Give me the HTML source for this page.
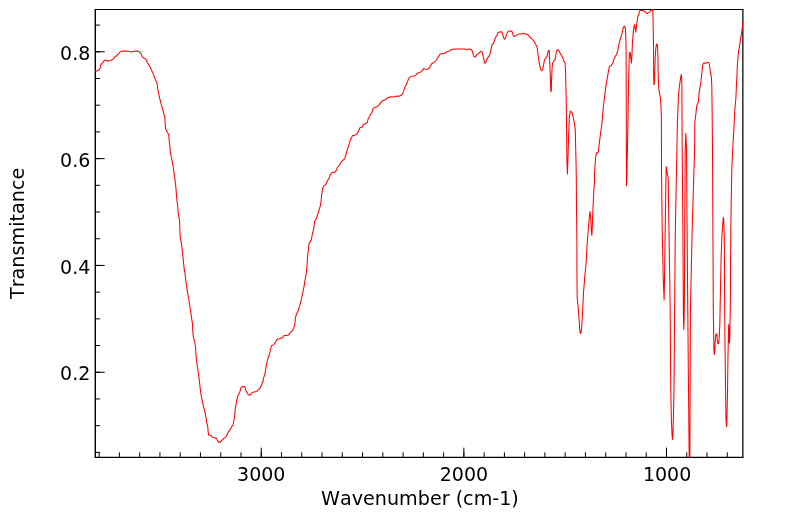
<!DOCTYPE html>
<html lang="en">
<head>
<meta charset="utf-8">
<title>IR Spectrum</title>
<style>
html,body{margin:0;padding:0;background:#fff;}
body{width:799px;height:516px;overflow:hidden;}
svg{display:block;will-change:transform;transform:translateZ(0);}
text{font-family:"DejaVu Sans","Liberation Sans",sans-serif;fill:#000;font-kerning:none;font-variant-ligatures:none;}
</style>
</head>
<body>
<svg width="799" height="516" viewBox="0 0 799 516">
<rect x="0" y="0" width="799" height="516" fill="#ffffff"/>
<defs><clipPath id="plotclip"><rect x="94.80" y="8.90" width="648.60" height="448.80"/></clipPath></defs>
<path d="M727.29,457.00 v-4.70 M707.03,457.00 v-4.70 M686.76,457.00 v-4.70 M666.50,457.00 v-4.70 M666.50,457.00 v-9.30 M646.24,457.00 v-4.70 M625.97,457.00 v-4.70 M605.71,457.00 v-4.70 M585.45,457.00 v-4.70 M565.18,457.00 v-4.70 M544.92,457.00 v-4.70 M524.66,457.00 v-4.70 M504.40,457.00 v-4.70 M484.13,457.00 v-4.70 M463.87,457.00 v-4.70 M463.87,457.00 v-9.30 M443.61,457.00 v-4.70 M423.34,457.00 v-4.70 M403.08,457.00 v-4.70 M382.82,457.00 v-4.70 M362.56,457.00 v-4.70 M342.29,457.00 v-4.70 M322.03,457.00 v-4.70 M301.77,457.00 v-4.70 M281.50,457.00 v-4.70 M261.24,457.00 v-4.70 M261.24,457.00 v-9.30 M240.98,457.00 v-4.70 M220.71,457.00 v-4.70 M200.45,457.00 v-4.70 M180.19,457.00 v-4.70 M159.93,457.00 v-4.70 M139.66,457.00 v-4.70 M119.40,457.00 v-4.70 M99.14,457.00 v-4.70 M95.40,452.39 h4.70 M95.40,425.68 h4.70 M95.40,398.98 h4.70 M95.40,372.27 h4.70 M95.40,372.27 h9.30 M95.40,345.56 h4.70 M95.40,318.86 h4.70 M95.40,292.15 h4.70 M95.40,265.44 h4.70 M95.40,265.44 h9.30 M95.40,238.74 h4.70 M95.40,212.03 h4.70 M95.40,185.32 h4.70 M95.40,158.62 h4.70 M95.40,158.62 h9.30 M95.40,131.91 h4.70 M95.40,105.20 h4.70 M95.40,78.50 h4.70 M95.40,51.79 h4.70 M95.40,51.79 h9.30 M95.40,25.09 h4.70" fill="none" stroke="#000" stroke-width="1"/>
<g stroke="#000" fill="none">
<line x1="95.3" y1="9.2" x2="95.3" y2="457.85" stroke-width="1.4"/>
<line x1="94.85" y1="9.45" x2="743.35" y2="9.45" stroke-width="1.1"/>
<line x1="742.85" y1="9.2" x2="742.85" y2="457.85" stroke-width="1.25"/>
<line x1="94.85" y1="457.35" x2="743.35" y2="457.35" stroke-width="1.2"/>
</g>
<g clip-path="url(#plotclip)"><path d="M95.3,71.0 L96.9,71.0 L98.4,70.2 L99.8,68.9 L100.3,67.3 L100.5,65.2 L101.3,64.1 L102.7,62.6 L104.2,60.6 L105.3,60.0 L106.5,60.4 L107.7,61.2 L108.8,60.6 L110.9,60.2 L113.2,59.2 L114.1,58.0 L114.9,56.6 L116.4,55.9 L117.3,54.8 L118.7,53.6 L119.9,52.1 L121.3,51.4 L123.1,51.1 L128.6,51.2 L129.7,51.6 L131.2,52.1 L132.9,51.5 L134.0,51.2 L135.6,51.1 L138.2,51.1 L139.3,51.9 L140.5,53.3 L141.5,54.8 L142.1,56.5 L143.1,57.7 L144.9,58.4 L146.3,60.0 L147.2,62.3 L148.9,64.9 L150.4,67.8 L151.8,70.7 L153.0,73.4 L155.5,79.8 L157.1,83.5 L157.8,89.2 L157.9,90.0 L159.5,97.6 L161.4,105.2 L163.3,111.5 L164.8,117.8 L165.2,124.0 L165.6,129.1 L167.1,131.6 L168.7,134.8 L169.3,141.7 L170.2,149.2 L170.2,151.3 L171.7,158.8 L173.3,167.7 L174.6,176.5 L175.8,186.6 L176.7,197.9 L178.0,209.2 L178.0,212.6 L179.5,220.1 L179.9,230.2 L180.2,237.8 L181.4,242.8 L182.4,251.6 L183.3,260.4 L184.2,269.2 L184.9,272.6 L186.1,282.6 L187.6,292.7 L189.5,304.0 L191.2,315.4 L192.7,325.4 L192.6,327.6 L193.2,336.4 L194.9,342.7 L195.7,349.0 L196.1,356.5 L197.0,364.1 L198.3,372.9 L199.5,381.7 L200.1,387.6 L201.3,396.4 L203.2,405.2 L205.1,412.8 L206.1,418.0 L206.7,422.6 L207.8,426.7 L208.1,431.4 L208.6,434.9 L210.8,435.3 L211.9,436.9 L213.9,437.5 L216.6,438.4 L217.4,440.4 L218.6,442.1 L220.3,442.1 L223.2,438.9 L226.2,436.6 L227.3,434.0 L228.5,431.7 L230.2,429.6 L231.7,426.7 L233.1,424.7 L233.7,421.5 L234.4,418.0 L235.3,409.0 L236.8,400.1 L237.9,395.7 L239.8,392.0 L241.0,387.6 L242.3,386.6 L244.2,386.6 L245.2,388.2 L246.1,391.1 L247.7,393.9 L249.4,395.4 L250.7,394.5 L252.3,392.2 L254.2,392.0 L256.1,391.6 L258.0,390.1 L260.1,387.8 L261.8,384.4 L263.3,380.0 L263.2,379.2 L264.9,374.2 L266.1,366.6 L267.6,359.7 L269.5,354.0 L271.4,345.8 L273.9,344.6 L275.8,341.4 L277.7,338.9 L280.2,338.6 L282.8,337.4 L284.3,335.4 L286.5,335.4 L288.4,335.1 L290.3,332.6 L292.8,329.8 L294.1,326.9 L295.1,322.5 L295.2,319.2 L296.2,314.8 L298.3,310.4 L300.2,304.1 L301.7,297.8 L303.0,291.5 L304.3,285.2 L305.0,280.1 L306.3,273.9 L306.8,267.6 L307.4,260.6 L307.4,257.9 L308.3,250.4 L309.1,243.4 L311.2,240.1 L312.4,234.0 L313.9,227.7 L314.6,221.4 L316.4,218.3 L318.3,212.6 L320.2,206.3 L321.1,201.0 L321.6,195.4 L322.6,188.5 L323.9,185.6 L325.7,184.7 L327.0,181.6 L328.9,178.4 L330.8,173.8 L332.7,172.1 L334.6,172.5 L335.8,171.2 L337.5,167.1 L339.2,165.8 L340.9,162.4 L343.0,160.2 L344.6,158.9 L345.9,154.5 L347.8,148.2 L349.4,143.2 L350.7,139.2 L352.6,135.4 L354.5,135.4 L357.0,133.9 L358.6,131.0 L359.9,127.8 L362.0,127.2 L363.3,124.7 L365.2,123.8 L367.1,122.8 L368.3,118.4 L370.2,115.2 L372.1,112.1 L373.0,108.7 L374.6,107.4 L377.1,106.7 L379.0,104.9 L380.9,102.4 L382.8,100.4 L385.1,100.1 L386.9,98.2 L389.1,97.2 L391.0,96.7 L393.5,97.0 L396.7,96.1 L399.2,96.3 L401.1,95.3 L402.6,93.6 L404.2,89.4 L405.5,86.0 L406.3,84.2 L409.1,77.9 L411.3,76.3 L413.9,76.0 L415.7,75.1 L417.6,73.1 L420.1,72.4 L422.0,70.9 L423.9,68.4 L425.8,69.4 L427.7,69.3 L429.6,67.5 L431.7,63.8 L434.0,62.5 L436.5,60.0 L438.4,56.7 L440.3,53.9 L442.2,53.5 L444.1,53.7 L446.4,52.0 L448.5,51.4 L451.0,49.8 L454.2,48.9 L459.2,48.9 L464.2,48.9 L466.8,49.6 L469.3,49.1 L471.2,49.5 L472.4,51.4 L473.7,56.2 L475.2,57.1 L476.8,54.6 L478.7,53.3 L480.6,51.4 L482.1,52.0 L483.4,57.1 L484.6,63.1 L485.6,63.0 L486.6,59.6 L488.2,57.1 L489.7,55.2 L490.7,50.8 L491.9,45.1 L493.8,42.6 L495.1,38.2 L497.0,35.0 L498.2,32.5 L499.4,32.0 L501.6,31.8 L502.6,33.9 L503.6,37.7 L504.5,39.2 L505.4,38.3 L506.4,35.1 L507.4,32.4 L508.9,31.1 L510.8,31.0 L512.4,32.0 L513.3,35.8 L514.6,36.4 L516.5,35.1 L518.3,34.1 L520.9,33.9 L523.4,33.6 L525.9,34.1 L528.2,35.1 L529.7,37.0 L531.6,38.5 L533.5,40.6 L535.3,43.7 L536.9,46.5 L537.6,50.9 L538.5,57.8 L539.5,64.1 L540.6,69.2 L541.6,70.7 L542.6,69.8 L543.5,65.4 L544.4,60.3 L545.4,58.1 L546.7,57.2 L547.6,54.0 L548.2,50.9 L549.2,50.3 L549.5,57.4 L550.0,69.1 L550.5,80.7 L550.8,91.2 L551.3,91.2 L551.6,78.4 L552.1,67.9 L552.7,62.7 L553.8,60.9 L555.0,60.0 L555.8,55.1 L556.7,50.5 L557.9,49.5 L559.1,51.0 L560.8,54.5 L562.6,57.4 L563.7,60.9 L565.1,62.7 L565.6,72.6 L565.8,84.2 L566.2,98.1 L566.6,128.0 L566.9,160.9 L567.4,174.1 L567.9,160.9 L568.6,136.2 L569.4,116.4 L570.4,111.1 L571.9,112.3 L573.2,117.2 L574.5,123.8 L575.3,130.4 L575.6,144.4 L576.0,160.9 L576.3,178.2 L576.5,207.9 L576.9,240.9 L576.9,264.9 L577.0,279.7 L577.2,297.8 L578.2,307.7 L579.2,320.9 L579.6,328.5 L580.0,331.6 L580.2,333.0 L580.5,333.5 L580.9,333.0 L581.1,331.6 L581.8,325.8 L582.5,312.7 L583.5,292.9 L584.8,276.4 L586.1,263.2 L586.8,249.1 L587.4,240.9 L588.4,227.7 L589.4,216.2 L590.0,211.6 L590.7,217.8 L591.4,231.0 L591.9,235.6 L592.4,224.4 L593.0,207.9 L593.8,191.5 L594.6,179.9 L594.3,176.6 L594.9,167.5 L595.8,156.0 L596.6,153.0 L598.2,152.2 L599.2,144.4 L600.4,134.5 L602.0,123.0 L602.6,115.2 L603.4,106.5 L604.9,93.7 L606.0,85.6 L607.6,76.3 L608.7,69.9 L609.5,66.4 L611.3,65.2 L612.7,63.5 L613.6,60.0 L615.0,56.7 L616.2,55.2 L617.7,50.9 L618.8,45.1 L620.0,39.9 L621.7,34.6 L622.9,29.4 L623.7,26.7 L624.6,26.3 L625.4,28.3 L625.8,37.6 L626.1,50.0 L626.2,80.0 L626.3,120.0 L626.5,185.7 L626.9,175.0 L627.4,150.0 L628.0,119.0 L628.3,100.0 L628.5,85.0 L628.8,71.6 L629.2,60.0 L629.5,52.6 L630.1,52.3 L630.7,57.3 L631.4,63.3 L632.0,53.8 L632.4,43.4 L633.1,34.1 L633.7,28.3 L634.5,24.5 L635.2,28.3 L635.8,32.3 L636.4,27.1 L637.1,21.3 L637.8,16.6 L639.0,14.3 L639.3,11.1 L640.3,10.4 L641.6,10.6 L644.1,11.0 L645.1,11.8 L646.1,13.0 L647.1,13.5 L648.6,12.6 L650.1,11.3 L651.1,10.2 L652.2,9.5 L652.9,10.8 L653.1,22.4 L653.4,39.9 L653.6,57.3 L653.6,71.6 L653.9,84.4 L654.3,84.4 L654.8,71.6 L655.2,58.0 L655.8,48.0 L656.6,44.0 L657.3,45.1 L657.7,51.0 L658.0,59.0 L658.1,71.6 L658.5,83.3 L659.0,90.2 L659.9,94.9 L660.7,100.7 L661.1,110.0 L661.4,119.3 L661.5,170.0 L661.9,205.0 L662.2,229.0 L662.6,250.0 L663.3,280.0 L664.1,300.0 L664.5,280.0 L665.2,230.0 L665.7,195.0 L666.2,166.5 L667.4,174.7 L668.2,178.0 L668.5,199.4 L669.0,232.0 L669.6,270.0 L670.2,312.0 L670.7,385.0 L671.4,421.0 L672.1,436.0 L672.5,439.5 L672.9,434.0 L673.5,414.0 L674.0,390.0 L674.6,312.0 L675.3,232.0 L676.0,195.0 L676.9,150.0 L677.4,122.7 L678.5,94.7 L679.6,85.0 L680.6,78.0 L681.2,74.3 L681.7,78.0 L681.9,90.0 L682.0,114.4 L682.2,150.0 L682.9,232.0 L683.4,314.0 L683.8,329.4 L684.1,322.0 L684.4,300.0 L684.7,232.0 L685.2,150.0 L685.9,133.4 L686.5,149.0 L687.1,232.0 L687.8,312.0 L688.5,388.0 L689.2,457.0 L689.5,478.0 L689.9,457.0 L690.1,390.0 L690.4,312.0 L692.1,232.0 L693.2,195.0 L694.6,150.0 L694.8,122.7 L696.0,112.8 L696.8,105.4 L698.3,102.1 L699.3,91.4 L700.6,84.0 L701.3,78.3 L701.9,72.4 L702.5,66.6 L703.1,64.0 L704.2,62.9 L705.7,63.4 L706.9,62.6 L708.0,62.3 L709.1,63.1 L709.5,65.5 L710.1,69.5 L710.6,73.6 L711.4,77.1 L711.6,81.2 L711.8,86.0 L712.1,108.0 L712.5,149.0 L712.9,229.0 L713.3,310.0 L713.6,330.2 L713.9,350.3 L714.3,354.4 L714.7,352.3 L715.1,343.3 L715.6,336.2 L716.3,333.7 L716.9,335.2 L717.3,340.2 L717.9,343.3 L718.4,343.8 L718.9,342.3 L719.3,335.2 L719.8,325.1 L720.1,309.0 L721.1,258.0 L721.9,236.0 L722.6,226.0 L723.1,219.5 L723.4,217.2 L723.7,219.5 L724.0,227.0 L724.3,236.0 L724.5,270.0 L724.7,310.0 L724.9,335.0 L725.2,360.0 L725.9,417.0 L726.5,426.5 L726.8,424.0 L727.5,393.8 L727.9,361.0 L728.3,340.0 L728.7,324.5 L729.0,330.0 L729.4,343.3 L729.8,338.0 L730.0,322.0 L730.3,309.0 L730.8,229.0 L731.3,197.0 L731.8,169.7 L732.6,151.0 L733.8,130.9 L734.6,112.8 L735.9,98.0 L736.6,81.5 L737.0,75.0 L737.2,68.0 L737.8,60.0 L738.5,51.6 L739.9,43.9 L740.9,36.9 L742.0,30.0 L743.0,20.8" fill="none" stroke="#ff0000" stroke-width="1.05" stroke-linejoin="round" stroke-linecap="round"/></g>
<text transform="translate(261.24,480.8) scale(0.975,1)" font-size="19.5" text-anchor="middle">3000</text>
<text transform="translate(463.97,480.8) scale(0.975,1)" font-size="19.5" text-anchor="middle">2000</text>
<text transform="translate(667.10,480.8) scale(0.975,1)" font-size="19.5" text-anchor="middle">1000</text>
<text transform="translate(90.3,60.14) scale(0.975,1)" font-size="19.5" text-anchor="end">0.8</text>
<text transform="translate(90.3,166.82) scale(0.975,1)" font-size="19.5" text-anchor="end">0.6</text>
<text transform="translate(90.3,273.79) scale(0.975,1)" font-size="19.5" text-anchor="end">0.4</text>
<text transform="translate(90.3,379.67) scale(0.975,1)" font-size="19.5" text-anchor="end">0.2</text>
<text x="321.1" y="504.9" font-size="19.15">Wavenumber (cm-1)</text>
<text transform="translate(24.45,299.0) rotate(-90)" font-size="19.2">Transmitance</text>
</svg>
</body>
</html>
